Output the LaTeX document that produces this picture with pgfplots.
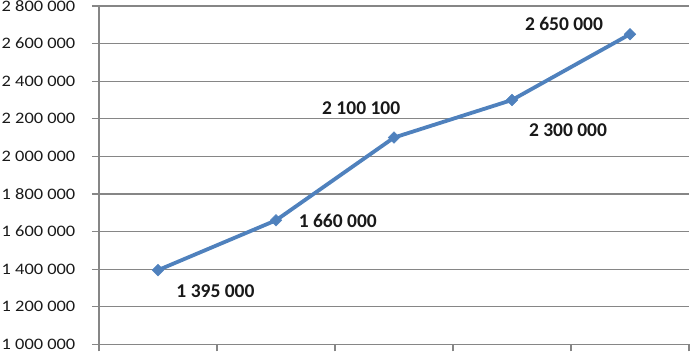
\documentclass[border=0pt]{standalone}
\usepackage{fontspec}
\usepackage{pgfplots}
\pgfplotsset{compat=1.18}
\setmainfont{Carlito}
\newfontfamily\tickfont[FakeStretch=1.15]{Carlito}
\newfontfamily\labfont[FakeStretch=1.0]{Carlito}
\definecolor{excelblue}{RGB}{79,129,189}
\definecolor{gridgray}{RGB}{134,134,134}
\begin{document}
\begin{tikzpicture}
\begin{axis}[
  name=ax,
  at={(0,0)}, anchor=south west,
  scale only axis,
  width=590pt, height=338.4pt,
  xmin=0.5, xmax=5.5,
  ymin=1000000, ymax=2800000,
  axis x line=bottom, axis y line=left,
  axis line style={-, gridgray, line width=1.2pt},
  xtick={0.5,1.5,2.5,3.5,4.5,5.5},
  xticklabels={},
  ytick={1000000,1200000,1400000,1600000,1800000,2000000,2200000,2400000,2600000,2800000},
  yticklabels={1 000 000,1 200 000,1 400 000,1 600 000,1 800 000,2 000 000,2 200 000,2 400 000,2 600 000,2 800 000},
  tick align=outside,
  major tick length=7pt,
  tick style={gridgray, line width=1.2pt},
  ymajorgrids,
  grid style={gridgray, line width=1.2pt},
  yticklabel style={font=\tickfont\fontsize{16}{19}\selectfont, text=black!90, anchor=east, inner sep=0pt, xshift=-16.5pt},
  clip=false,
]
\addplot[color=excelblue, line width=3.8pt, mark=square*, mark size=4.1pt, mark options={solid, rotate=45, fill=excelblue, draw=excelblue, line width=0.5pt}]
  coordinates {(1,1395000) (2,1660000) (3,2100100) (4,2300000) (5,2650000)};
\tikzset{dl/.style={font=\labfont\bfseries\fontsize{19.5}{22}\selectfont, text=black!90, inner sep=0pt, anchor=center}}
\node[dl, xshift=57.5pt, yshift=-21.2pt] at (axis cs:1,1395000) {1 395 000};
\node[dl, xshift=61.8pt, yshift=-0.4pt] at (axis cs:2,1660000) {1 660 000};
\node[dl, xshift=-32.8pt, yshift=29pt] at (axis cs:3,2100100) {2 100 100};
\node[dl, xshift=56pt, yshift=-29.7pt] at (axis cs:4,2300000) {2 300 000};
\node[dl, xshift=-66pt, yshift=10.7pt] at (axis cs:5,2650000) {2 650 000};
\end{axis}
\pgfresetboundingbox
\path[use as bounding box] ([xshift=-99pt,yshift=-6.6pt]ax.south west) rectangle ([xshift=1pt,yshift=6pt]ax.north east);
\end{tikzpicture}
\end{document}
